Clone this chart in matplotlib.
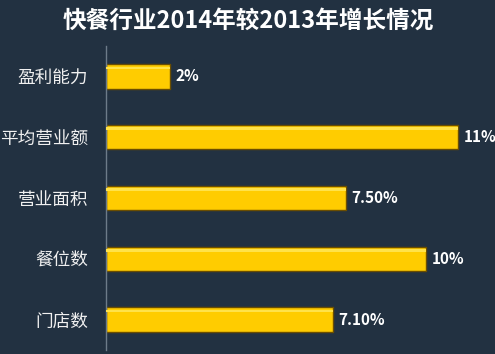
import matplotlib
matplotlib.use("Agg")
import matplotlib.pyplot as plt

plt.rcParams['font.family'] = ['Noto Sans CJK SC', 'DejaVu Sans']

categories = ['盈利能力', '平均营业额', '营业面积', '餐位数', '门店数']
values = [2, 11, 7.5, 10, 7.1]
labels = ['2%', '11%', '7.50%', '10%', '7.10%']
title = '快餐行业2014年较2013年增长情况'

bg = '#223141'
fig = plt.figure(figsize=(4.95, 3.54), dpi=100, facecolor=bg)
ax = fig.add_axes([106/495, 4/354, 1 - 106/495, 304/354], facecolor=bg)

y = list(range(len(categories)))
ax.barh(y, values, height=0.4, color='#FFCC00', edgecolor='#6b4e00', linewidth=1.0, zorder=2)
ax.barh([v - 0.14 for v in y], values, height=0.04, color='#FFE24A', linewidth=0, zorder=3)

for yi, v, t in zip(y, values, labels):
    ax.text(v + 0.17, yi, t, color='white', fontsize=11, fontweight='bold',
            va='center', ha='left')

ax.set_xlim(0, 389/32)
ax.set_ylim(len(categories) - 0.5, -0.5)
ax.set_yticks(y)
ax.set_yticklabels(categories, color='#f0f0f0', fontsize=12.7)
ax.tick_params(axis='y', length=0, pad=13)
ax.set_xticks([])
for s in ['top', 'right', 'bottom']:
    ax.spines[s].set_visible(False)
ax.spines['left'].set_color('#6d7b89')
ax.spines['left'].set_linewidth(1.0)

fig.text(248/495, 1 - 21/354, title, color='white', fontsize=17, fontweight='bold',
         ha='center', va='center')

fig.savefig('out.png', dpi=100, facecolor=bg)
